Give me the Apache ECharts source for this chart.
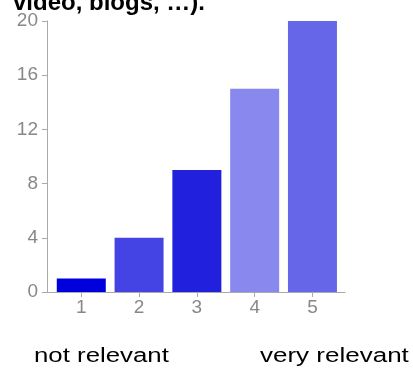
<!DOCTYPE html>
<html>
<head>
<meta charset="utf-8">
<script src="https://cdn.jsdelivr.net/npm/echarts@6/dist/echarts.min.js"></script>
<style>
  html, body { margin: 0; padding: 0; background: #fff; }
  #chart { width: 413px; height: 370px; }
</style>
</head>
<body>
<div id="chart"></div>
<script>
// Rating scale 1..5 and number of responses for each rating
const ratings = [1, 2, 3, 4, 5];
const counts = [1, 4, 9, 15, 20];
const barColors = ['#0000dd', '#4444e4', '#2020dd', '#8888ee', '#6666e8'];
const yTicks = [0, 4, 8, 12, 16, 20];
const titleText = 'video, blogs, \u2026).';
const lowLabel = 'not relevant';
const highLabel = 'very relevant';

const chart = echarts.init(document.getElementById('chart'), null, { renderer: 'canvas' });

const axisGray = '#aaaaaa';
const labelGray = '#888888';

chart.setOption({
  animation: false,
  grid: { left: 47, right: 68, top: 21, bottom: 78, containLabel: false },
  xAxis: {
    type: 'value',
    min: 0.407,
    max: 5.563,
    axisLine: { show: true, lineStyle: { color: axisGray, width: 1 } },
    axisTick: { show: true, length: 5, lineStyle: { color: axisGray }, customValues: ratings },
    axisLabel: {
      show: true,
      customValues: ratings,
      color: labelGray,
      fontFamily: 'Liberation Sans, Arial',
      fontSize: 19,
      margin: 6
    },
    splitLine: { show: false }
  },
  yAxis: {
    type: 'value',
    min: yTicks[0],
    max: yTicks[yTicks.length - 1],
    interval: yTicks[1] - yTicks[0],
    axisLine: { show: true, lineStyle: { color: axisGray, width: 1 } },
    axisTick: { show: true, length: 5, lineStyle: { color: axisGray } },
    axisLabel: {
      color: labelGray,
      fontFamily: 'Liberation Sans, Arial',
      fontSize: 19,
      margin: 9
    },
    splitLine: { show: false }
  },
  series: [{
    type: 'bar',
    barWidth: 49,
    data: ratings.map((r, i) => ({
      value: [r, counts[i]],
      itemStyle: { color: barColors[i] }
    }))
  }],
  graphic: [
    {
      type: 'text',
      left: 13,
      top: -9,
      style: {
        text: titleText,
        font: 'bold 24px "Liberation Sans", Arial',
        fill: '#000'
      }
    },
    {
      type: 'text',
      x: 34,
      y: 356,
      scaleX: 1.29,
      style: {
        text: lowLabel,
        font: '20px "Liberation Sans", Arial',
        verticalAlign: 'middle',
        fill: '#000'
      }
    },
    {
      type: 'text',
      x: 260,
      y: 356,
      scaleX: 1.3,
      style: {
        text: highLabel,
        font: '20px "Liberation Sans", Arial',
        verticalAlign: 'middle',
        fill: '#000'
      }
    }
  ]
});
</script>
</body>
</html>
